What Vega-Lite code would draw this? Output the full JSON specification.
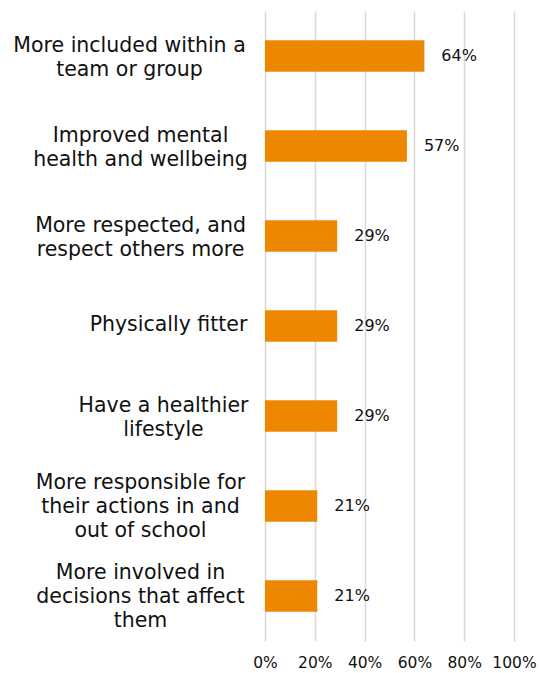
{
  "$schema": "https://vega.github.io/schema/vega-lite/v6.json",
  "autosize": {"type": "none"},
  "padding": {"left": 265, "top": 11, "right": 26, "bottom": 32},
  "width": 249,
  "height": 630,
  "background": "white",
  "config": {
    "view": {"stroke": null},
    "font": "DejaVu Sans"
  },
  "data": {
    "values": [
      {"label": "More included within a|team or group", "value": 0.64},
      {"label": "Improved mental|health and wellbeing", "value": 0.57},
      {"label": "More respected, and|respect others more", "value": 0.29},
      {"label": "Physically fitter", "value": 0.29},
      {"label": "Have a healthier|lifestyle", "value": 0.29},
      {"label": "More responsible for|their actions in and|out of school", "value": 0.21},
      {"label": "More involved in|decisions that affect|them", "value": 0.21}
    ]
  },
  "encoding": {
    "y": {
      "field": "label",
      "type": "nominal",
      "sort": null,
      "scale": {"paddingInner": 0.65, "paddingOuter": 0.325},
      "axis": {
        "title": null,
        "domain": false,
        "ticks": false,
        "grid": false,
        "labelExpr": "split(datum.label, '|')",
        "labelAlign": "center",
        "labelBaseline": "middle",
        "labelPadding": {
          "condition": [
            {"test": "indexof(datum.value, 'More included') == 0", "value": 136},
            {"test": "indexof(datum.value, 'Physically') == 0", "value": 97},
            {"test": "indexof(datum.value, 'Have a') == 0", "value": 102}
          ],
          "value": 125
        },
        "labelOffset": {
          "condition": [
            {"test": "length(split(datum.value, '|')) == 3", "value": -23},
            {"test": "length(split(datum.value, '|')) == 2", "value": -10}
          ],
          "value": -1
        },
        "labelFont": "DejaVu Sans",
        "labelFontSize": 20.5,
        "labelLineHeight": 24,
        "labelColor": "#111111",
        "labelLimit": 400
      }
    },
    "x": {
      "field": "value",
      "type": "quantitative",
      "scale": {"domain": [0, 1]},
      "axis": {
        "title": null,
        "values": [0, 0.2, 0.4, 0.6, 0.8, 1],
        "format": ".0%",
        "domain": false,
        "ticks": false,
        "grid": true,
        "gridColor": "#d9d9d9",
        "gridWidth": 1.6,
        "labelFont": "DejaVu Sans",
        "labelFontSize": 15.5,
        "labelColor": "#111111",
        "labelPadding": 14,
        "labelFlush": false
      }
    }
  },
  "layer": [
    {
      "mark": {"type": "bar", "color": "#ee8700"}
    },
    {
      "mark": {
        "type": "text",
        "align": "left",
        "baseline": "middle",
        "dx": 17,
        "font": "DejaVu Sans",
        "fontSize": 16,
        "color": "#111111"
      },
      "encoding": {
        "text": {"field": "value", "type": "quantitative", "format": ".0%"}
      }
    }
  ]
}
